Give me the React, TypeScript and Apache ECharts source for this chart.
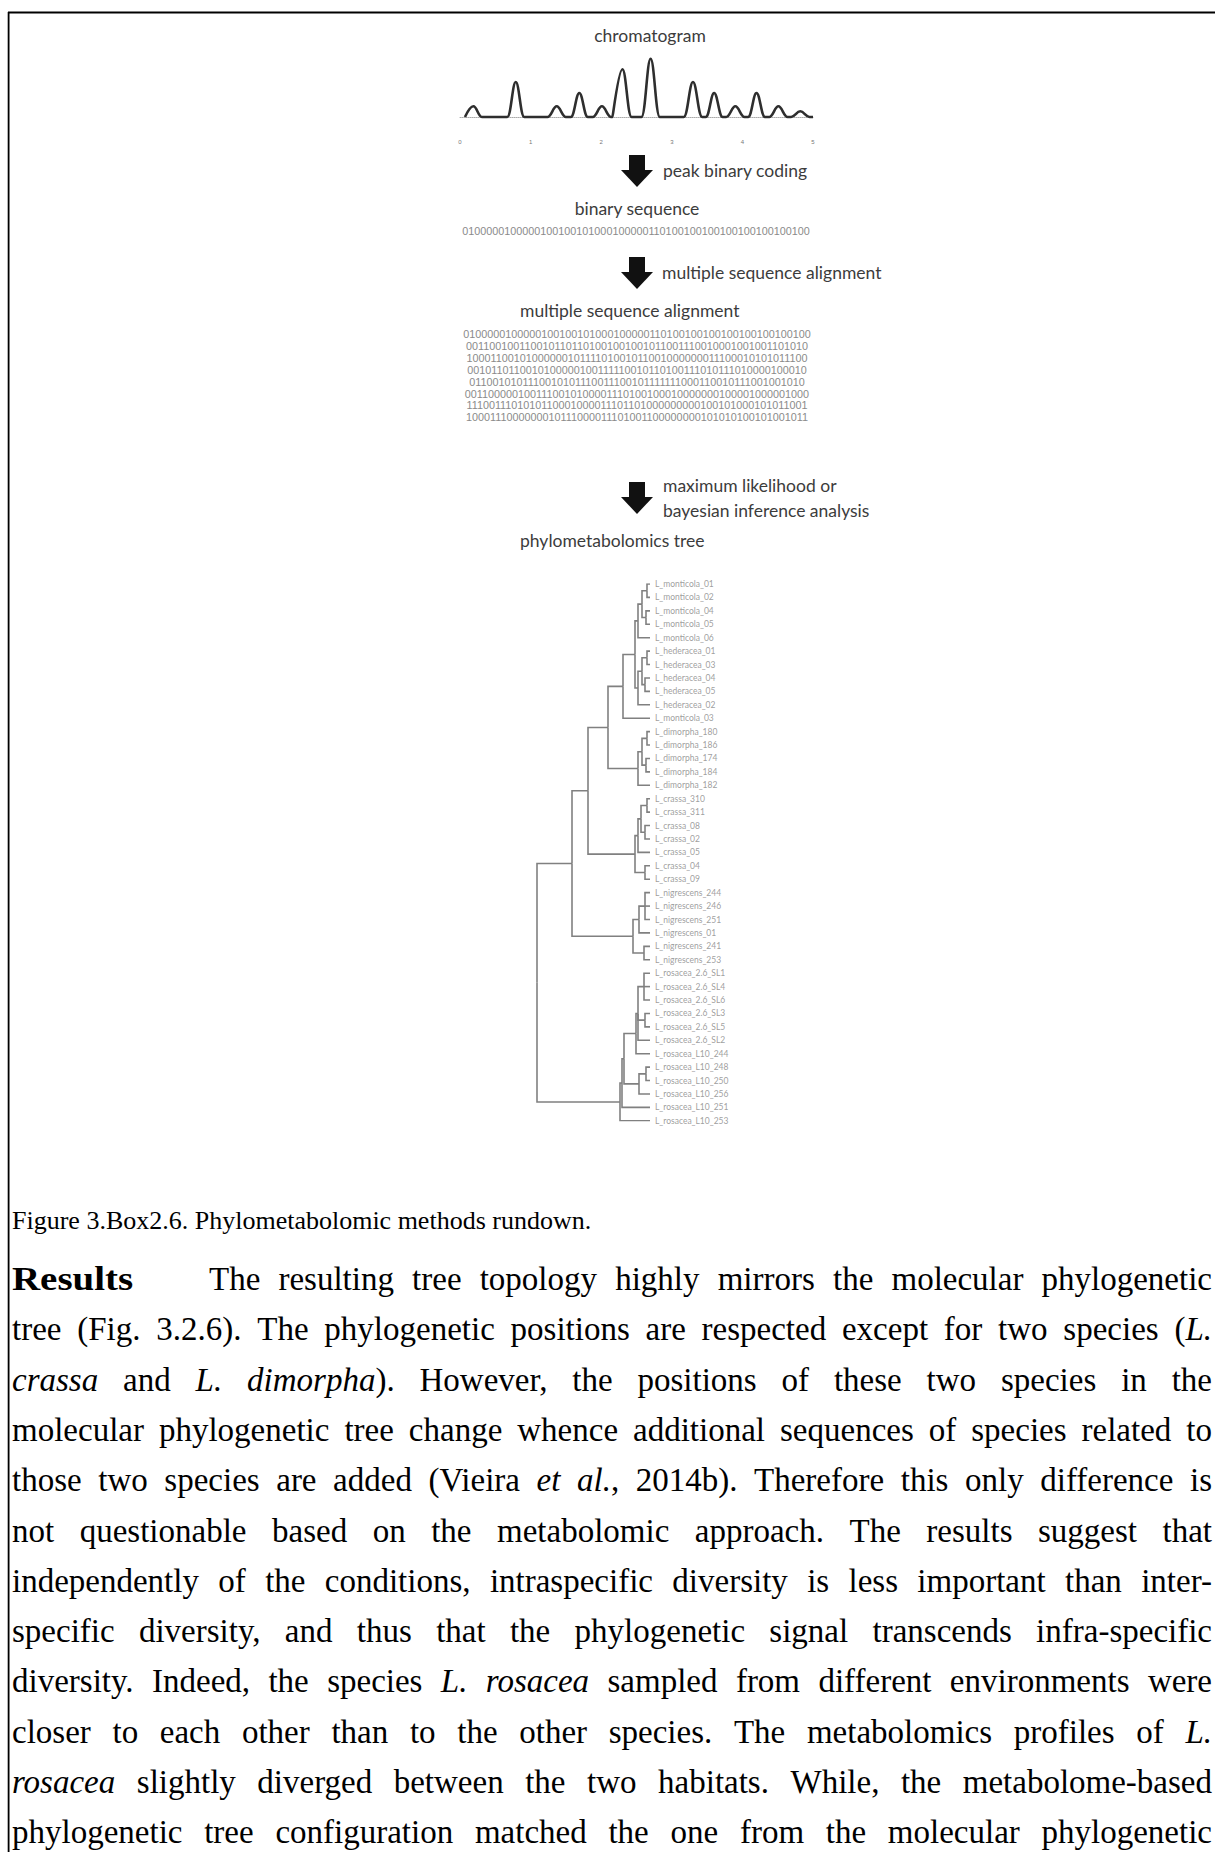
import React, { useEffect, useRef } from "react";
import * as echarts from "echarts";

// ---------- chromatogram (retention-time units, intensity units) ----------
const RT_TICKS = ["0", "1", "2", "3", "4", "5"];
const TRACE_START = 0.07;
const TRACE_END = 5.0;
const PEAK_X = [0.19, 0.79, 1.37, 1.69, 2.01, 2.3, 2.7, 3.3, 3.6, 3.9, 4.2, 4.51, 4.82];
const PEAK_H = [10.7, 35, 10.7, 24, 10.7, 47.7, 58.3, 35, 24, 10.7, 24, 10.7, 5.7];
const PEAK_W = [0.12, 0.12, 0.13, 0.12, 0.13, 0.13, 0.13, 0.13, 0.12, 0.13, 0.12, 0.13, 0.13];

// ---------- binary coding ----------
const BINARY_SEQUENCE = "0100000100000100100101000100000110100100100100100100100100";
const ALIGNMENT_ROWS = [
  "0100000100000100100101000100000110100100100100100100100100",
  "0011001001100101101101001001001011001110010001001001101010",
  "1000110010100000010111101001011001000000011100010101011100",
  "0010110110010100000100111110010110100111010111010000100010",
  "0110010101110010101110011100101111111000110010111001001010",
  "0011000001001110010100001110100100010000000100001000001000",
  "1110011101010110001000011101101000000000100101000101011001",
  "1000111000000010111000011101001100000000101010100101001011",
];

// ---------- phylometabolomics tree ----------
const LEAF_LABELS = [
  "L_monticola_01", "L_monticola_02", "L_monticola_04", "L_monticola_05", "L_monticola_06",
  "L_hederacea_01", "L_hederacea_03", "L_hederacea_04", "L_hederacea_05", "L_hederacea_02",
  "L_monticola_03",
  "L_dimorpha_180", "L_dimorpha_186", "L_dimorpha_174", "L_dimorpha_184", "L_dimorpha_182",
  "L_crassa_310", "L_crassa_311", "L_crassa_08", "L_crassa_02", "L_crassa_05", "L_crassa_04", "L_crassa_09",
  "L_nigrescens_244", "L_nigrescens_246", "L_nigrescens_251", "L_nigrescens_01", "L_nigrescens_241", "L_nigrescens_253",
  "L_rosacea_2.6_SL1", "L_rosacea_2.6_SL4", "L_rosacea_2.6_SL6", "L_rosacea_2.6_SL3", "L_rosacea_2.6_SL5", "L_rosacea_2.6_SL2",
  "L_rosacea_L10_244", "L_rosacea_L10_248", "L_rosacea_L10_250", "L_rosacea_L10_256", "L_rosacea_L10_251", "L_rosacea_L10_253",
];
const TIP_DEPTH = 113;
// node = [depth, ...children]; a child is a leaf index or a node
const TREE: any = [0,
  [35,
    [51,
      [71,
        [86,
          [98,
            [101, [105, [110, 0, 1], [109, 2, 3]], 4],
            [101, [105, [110, 5, 6], [108, 7, 8]], 9]],
          10],
        [101, [105, [110, 11, 12], [109, 13, 14]], 15]],
      [98, [101, [104, [110, 16, 17], [108, 18, 19]], 20], [108, 21, 22]]],
    [96, [102, [108, 23, 24, 25], 26], [107, 27, 28]]],
  [83, [85, [87, [99, [101, [107, 29, 30, 31], [108, 32, 33], 34], 35], [102, [109, 36, 37], 38]], 39], 40]];

// ---------- text ----------
const CAPTION = "Figure 3.Box2.6. Phylometabolomic methods rundown.";
const PARA_HEAD = "Results";
const PARA_LINES = [
  "The resulting tree topology highly mirrors the molecular phylogenetic",
  "tree (Fig. 3.2.6). The phylogenetic positions are respected except for two species (*L.*",
  "*crassa* and *L. dimorpha*). However, the positions of these two species in the",
  "molecular phylogenetic tree change whence additional sequences of species related to",
  "those two species are added (Vieira *et al.*, 2014b). Therefore this only difference is",
  "not questionable based on the metabolomic approach. The results suggest that",
  "independently of the conditions, intraspecific diversity is less important than inter-",
  "specific diversity, and thus that the phylogenetic signal transcends infra-specific",
  "diversity. Indeed, the species *L. rosacea* sampled from different environments were",
  "closer to each other than to the other species. The metabolomics profiles of *L.*",
  "*rosacea* slightly diverged between the two habitats. While, the metabolome-based",
  "phylogenetic tree configuration matched the one from the molecular phylogenetic",
];

const SERIF = "Liberation Serif";
const SANS = "Lato";

function layoutTree(node: any, segs: any[]): { x: number; y: number } {
  if (typeof node === "number") return { x: TIP_DEPTH, y: node };
  const [d, ...kids] = node;
  const pts = kids.map((k: any) => layoutTree(k, segs));
  const y = (pts[0].y + pts[pts.length - 1].y) / 2;
  pts.forEach((p: any) => segs.push({ coords: [[d, y], [d, p.y], [p.x, p.y]] }));
  return { x: d, y };
}

function buildTrace() {
  const raw: number[][] = [[TRACE_START, 0]];
  PEAK_X.forEach((x, i) => {
    const w = PEAK_W[i];
    raw.push([x - w - 0.02, 0], [x - w, 0], [x, PEAK_H[i]], [x + w, 0], [x + w + 0.02, 0]);
  });
  raw.push([TRACE_END, 0]);
  const out: number[][] = [];
  raw.forEach((p) => {
    if (!out.length || p[0] > out[out.length - 1][0] + 1e-6) out.push(p);
  });
  return out;
}

export default function App() {
  const ref = useRef<HTMLDivElement>(null);
  useEffect(() => {
    const el = ref.current!;
    const chart = echarts.init(el, null, { renderer: "svg" });
    const ctx = document.createElement("canvas").getContext("2d")!;
    const measure = (t: string, fs: number, it: boolean, b: boolean) => {
      ctx.font = `${it ? "italic" : "normal"} ${b ? "bold" : "normal"} ${fs}px "${SERIF}"`;
      return ctx.measureText(t).width;
    };
    const G: any[] = [];
    const txt = (text: string, x: number, y: number, o: any = {}) =>
      G.push({
        type: "text", x, y, silent: true, scaleX: o.sx || 1,
        style: {
          text, fontFamily: o.family || SANS, fontSize: o.size || 17.5,
          fontStyle: o.it ? "italic" : "normal", fontWeight: o.b ? "bold" : "normal",
          fill: o.color || "#3c3c3c", textAlign: o.align || "left", textVerticalAlign: "middle",
        },
      });

    // frame
    G.push({ type: "line", silent: true, shape: { x1: 8, y1: 12.5, x2: 1215, y2: 12.5 }, style: { stroke: "#000", lineWidth: 1.8 } });
    G.push({ type: "line", silent: true, shape: { x1: 8.6, y1: 12, x2: 8.6, y2: 1852 }, style: { stroke: "#000", lineWidth: 1.8 } });

    // arrows
    const arrow = (top: number) => {
      G.push({ type: "rect", silent: true, shape: { x: 629, y: top, width: 16, height: 16 }, style: { fill: "#111" } });
      G.push({ type: "polygon", silent: true, shape: { points: [[621, top + 15], [653, top + 15], [637, top + 32]] }, style: { fill: "#111" } });
    };
    arrow(155);
    arrow(257);
    arrow(482);

    // figure labels
    txt("chromatogram", 650, 35, { align: "center" });
    txt("peak binary coding", 663, 170);
    txt("binary sequence", 637, 208, { align: "center" });
    txt(BINARY_SEQUENCE, 636, 231, { align: "center", family: "Liberation Sans", size: 10.8, color: "#8a8a8a" });
    txt("multiple sequence alignment", 662, 272);
    txt("multiple sequence alignment", 520, 310);
    ALIGNMENT_ROWS.forEach((r, i) =>
      txt(r, 637, 334 + i * 11.9, { align: "center", family: "Liberation Sans", size: 10.8, color: "#8a8a8a" })
    );
    txt("maximum likelihood or", 663, 485);
    txt("bayesian inference analysis", 663, 510);
    txt("phylometabolomics tree", 520, 540);

    // caption + paragraph
    txt(CAPTION, 12, 1220, { family: SERIF, size: 26, color: "#000" });
    const BODY = 33;
    const SX = 1.0;
    txt(PARA_HEAD, 12, 1279, { family: SERIF, size: BODY, b: true, color: "#000", sx: 1.18 });
    PARA_LINES.forEach((line, li) => {
      const words: { t: string; it: boolean }[][] = [];
      let it = false, cur: { t: string; it: boolean }[] = [], buf = "";
      const flush = () => { if (buf) { cur.push({ t: buf, it }); buf = ""; } };
      for (const ch of line) {
        if (ch === "*") { flush(); it = !it; }
        else if (ch === " ") { flush(); if (cur.length) words.push(cur); cur = []; }
        else buf += ch;
      }
      flush();
      if (cur.length) words.push(cur);
      const left = li === 0 ? 209 : 12;
      const right = 1212;
      const y = 1279 + li * 50.3;
      const widths = words.map((w) => w.reduce((s, r) => s + measure(r.t, BODY, r.it, false) * SX, 0));
      const total = widths.reduce((a, b) => a + b, 0);
      const gap = (right - left - total) / (words.length - 1);
      let x = left;
      words.forEach((w, i) => {
        let xx = x;
        w.forEach((r) => {
          txt(r.t, xx, y, { family: SERIF, size: BODY, it: r.it, color: "#000", sx: SX });
          xx += measure(r.t, BODY, r.it, false) * SX;
        });
        x += widths[i] + gap;
      });
    });

    const segs: any[] = [];
    layoutTree(TREE, segs);

    const option: any = {
      animation: false,
      backgroundColor: "#fff",
      grid: [
        { left: 460, top: 55, width: 353, height: 73 },
        { left: 537, top: 584, width: 113, height: 536.8 },
      ],
      xAxis: [
        {
          gridIndex: 0, type: "value", min: 0, max: 5, interval: 1,
          axisLine: { show: true, lineStyle: { color: "#aaa", type: "dotted", width: 1 } },
          axisTick: { show: false }, splitLine: { show: false },
          axisLabel: { show: true, fontSize: 6, color: "#777", margin: 11, formatter: (v: number) => RT_TICKS[Math.round(v)] },
        },
        { gridIndex: 1, type: "value", min: 0, max: TIP_DEPTH, show: false },
      ],
      yAxis: [
        { gridIndex: 0, type: "value", min: -11, max: 62, show: false },
        { gridIndex: 1, type: "value", min: 0, max: LEAF_LABELS.length - 1, inverse: true, show: false },
      ],
      series: [
        {
          type: "line", xAxisIndex: 0, yAxisIndex: 0, data: buildTrace(), smooth: 0.4,
          symbol: "none", lineStyle: { color: "#2e2e2e", width: 2.6 }, silent: true,
        },
        {
          type: "lines", coordinateSystem: "cartesian2d", xAxisIndex: 1, yAxisIndex: 1,
          polyline: true, data: segs, silent: true,
          lineStyle: { color: "#808080", width: 1.6, opacity: 1, curveness: 0 },
        },
        {
          type: "scatter", xAxisIndex: 1, yAxisIndex: 1, symbolSize: 0, silent: true,
          data: LEAF_LABELS.map((_, i) => [TIP_DEPTH, i]),
          label: {
            show: true, position: "right", distance: 5, fontSize: 8.5, fontFamily: SANS, color: "#858585",
            formatter: (p: any) => LEAF_LABELS[p.dataIndex],
          },
        },
      ],
      graphic: { elements: G },
    };
    chart.setOption(option);
    return () => chart.dispose();
  }, []);
  return (
    <div
      ref={ref}
      style={{ position: "absolute", left: 0, top: 0, width: 1215, height: 1852, background: "#fff" }}
    />
  );
}
